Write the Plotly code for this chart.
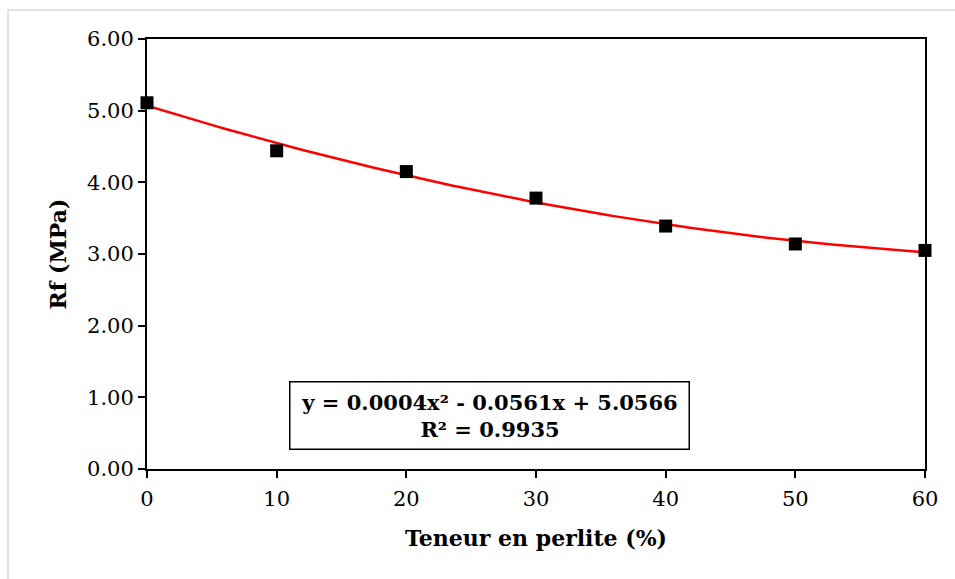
import numpy as np
import plotly.graph_objects as go

perlite = [0, 10, 20, 30, 40, 50, 60]
rf = [5.11, 4.44, 4.15, 3.78, 3.39, 3.14, 3.05]
y_ticks = [0, 1, 2, 3, 4, 5, 6]
x_ticks = [0, 10, 20, 30, 40, 50, 60]
eq_text = "y = 0.0004x² - 0.0561x + 5.0566<br>R² = 0.9935"

coef = np.polyfit(perlite, rf, 2)
xs = np.linspace(min(perlite), max(perlite), 121)
ys = np.polyval(coef, xs)

W, H = 955, 579
L, R, T, B = 147, 30, 39, 110
FONT = "DejaVu Serif"

fig = go.Figure()
fig.add_trace(go.Scatter(x=xs, y=ys, mode="lines",
                         line=dict(color="#ff0000", width=2.5), showlegend=False, hoverinfo="skip"))
fig.add_trace(go.Scatter(x=perlite, y=rf, mode="markers",
                         marker=dict(symbol="square", size=13, color="black"), showlegend=False,
                         cliponaxis=False))

pw = W - L - R
ph = H - T - B
def px(xp):
    return (xp - L) / pw
def py(yp):
    return (H - B - yp) / ph

fig.add_shape(type="rect", xref="paper", yref="paper",
              x0=px(8), x1=px(1000), y0=py(10), y1=py(700),
              line=dict(color="#d9d9d9", width=1.5), fillcolor="rgba(0,0,0,0)", layer="below")

fig.add_annotation(x=px(489), y=py(415), xref="paper", yref="paper", text=eq_text,
                   xanchor="center", yanchor="middle",
                   showarrow=False, align="center",
                   font=dict(family=FONT, size=21, color="black", weight="bold"),
                   bordercolor="black", borderwidth=1.5, borderpad=7, bgcolor="white",
                   width=384)

axis_common = dict(showline=True, linecolor="black", linewidth=2, mirror=True,
                   ticks="outside", ticklen=7, tickwidth=2, tickcolor="black",
                   showgrid=False, zeroline=False,
                   tickfont=dict(family=FONT, size=21, color="black"))

fig.update_xaxes(range=[0, 60], tickvals=x_ticks, ticktext=[str(v) for v in x_ticks],
                 ticklabelstandoff=3,
                 title=dict(text="<b>Teneur en perlite (%)</b>", font=dict(family=FONT, size=22, color="black"),
                            standoff=20),
                 **axis_common)
fig.update_yaxes(range=[0, 6], tickvals=y_ticks, ticktext=[f"{v:.2f}" for v in y_ticks],
                 title=dict(text="<b>Rf (MPa)</b>", font=dict(family=FONT, size=22, color="black"),
                            standoff=14),
                 **axis_common)

fig.update_layout(width=W, height=H, margin=dict(l=L, r=R, t=T, b=B, autoexpand=False),
                  plot_bgcolor="white", paper_bgcolor="white")

fig.write_html("out.html")
